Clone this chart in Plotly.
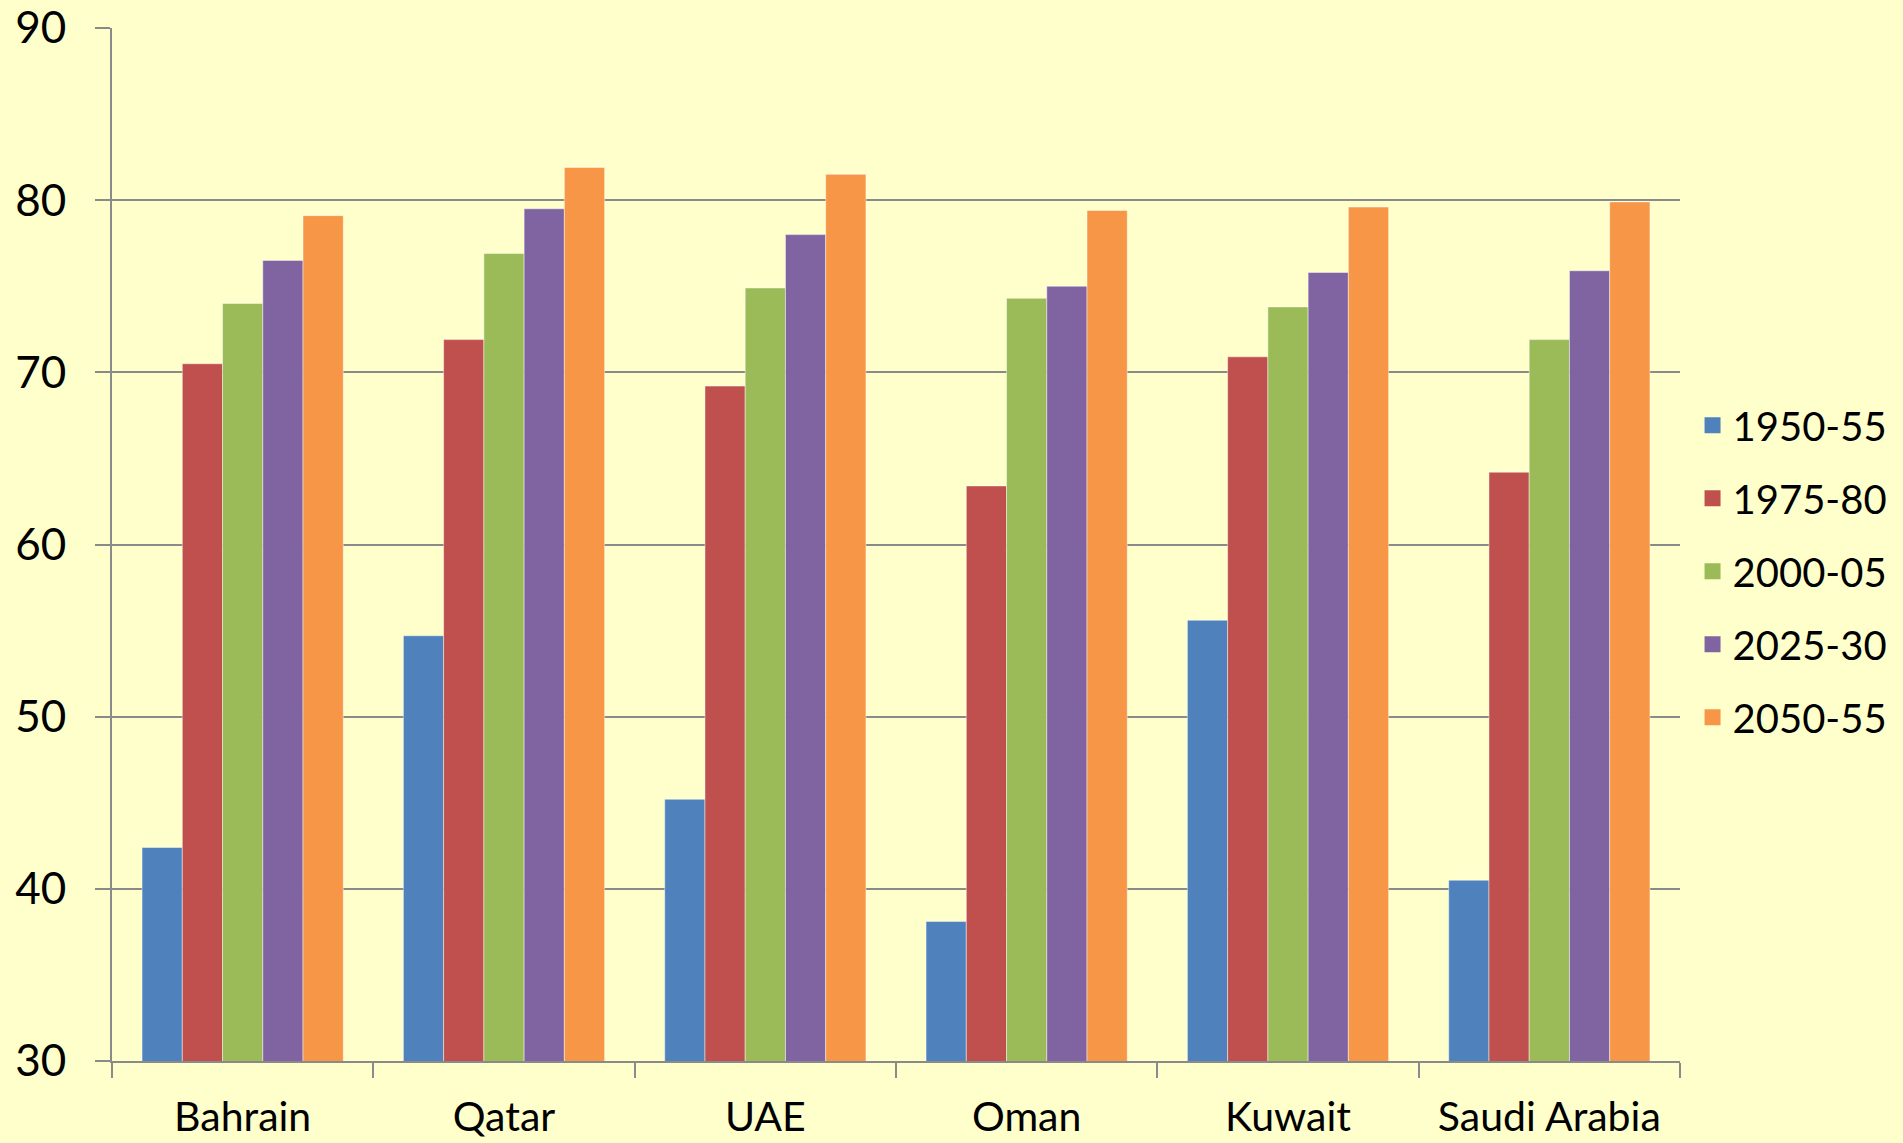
import plotly.graph_objects as go

countries = ["Bahrain", "Qatar", "UAE", "Oman", "Kuwait", "Saudi Arabia"]
periods = ["1950-55", "1975-80", "2000-05", "2025-30", "2050-55"]

v_1950_55 = [42.4, 54.7, 45.2, 38.1, 55.6, 40.5]
v_1975_80 = [70.5, 71.9, 69.2, 63.4, 70.9, 64.2]
v_2000_05 = [74.0, 76.9, 74.9, 74.3, 73.8, 71.9]
v_2025_30 = [76.5, 79.5, 78.0, 75.0, 75.8, 75.9]
v_2050_55 = [79.1, 81.9, 81.5, 79.4, 79.6, 79.9]

series = [v_1950_55, v_1975_80, v_2000_05, v_2025_30, v_2050_55]
colors = ["#4F81BD", "#C0504D", "#9BBB59", "#8064A2", "#F79646"]

FONT = "Lato"
GRID = "#8A8A8A"

fig = go.Figure()
for name, vals, col in zip(periods, series, colors):
    fig.add_trace(go.Bar(
        x=countries, y=vals, name=name, showlegend=False,
        marker=dict(color=col, line=dict(color="rgba(255,255,255,0.45)", width=1)),
    ))
# legend proxies (square swatches)
for name, col in zip(periods, colors):
    fig.add_trace(go.Scatter(
        x=[None], y=[None], mode="markers", name=name, legendgroup=name,
        marker=dict(symbol="square", size=30, color=col),
    ))

fig.update_layout(
    width=1903, height=1143,
    paper_bgcolor="#FFFFCC", plot_bgcolor="#FFFFCC",
    margin=dict(l=112, r=223, t=28, b=82, autoexpand=False),
    barmode="group", bargap=0.23, bargroupgap=0,
    font=dict(family=FONT, color="black", size=40),
    legend=dict(
        x=1.008, xanchor="left", y=0.474, yanchor="middle",
        font=dict(family=FONT, size=40, color="black"),
        bgcolor="rgba(0,0,0,0)", tracegroupgap=18,
        itemsizing="trace",
    ),
)
fig.update_xaxes(
    type="category", showgrid=False, showline=True, linecolor=GRID, linewidth=2,
    ticks="outside", tickson="boundaries", ticklen=15, tickwidth=2, tickcolor=GRID,
    tickfont=dict(family=FONT, size=41, color="black"), ticklabelstandoff=19,
    automargin=False,
)
fig.update_yaxes(
    range=[30, 90], dtick=10, tick0=30, showgrid=True, gridcolor=GRID, gridwidth=2,
    zeroline=False, showline=True, linecolor=GRID, linewidth=2,
    ticks="outside", ticklen=15, tickwidth=2, tickcolor=GRID,
    tickfont=dict(family=FONT, size=44, color="black"), ticklabelstandoff=20,
    automargin=False,
)

fig.write_html(
    "out.html",
    config={"displayModeBar": False},
    post_script="document.body.style.margin='0';document.body.style.background='#FFFFCC';",
)
